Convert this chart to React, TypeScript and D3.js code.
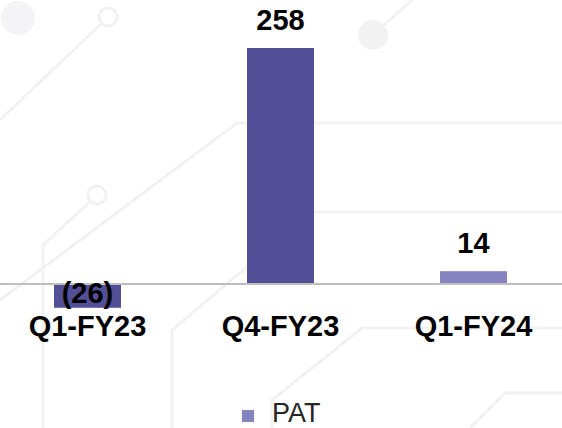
import React from "react";
import * as d3 from "d3";

const categories = ["Q1-FY23", "Q4-FY23", "Q1-FY24"];
const patValues = [-26, 258, 14];
const barColors = ["#524F96", "#524F96", "#8783C0"];
const legendLabel = "PAT";
const legendColor = "#8783C0";

const W = 562;
const H = 428;

// decorative circuit background (not data)
const decoLines = [
  "M102,23 L0,120",
  "M91,201 L43,245 L43,428",
  "M562,123 L237,123 L0,300",
  "M562,212 L312,212 L172,330 L172,428",
  "M562,328 L362,328 L272,400 L272,428",
  "M562,393 L505,393 L470,428",
  "M373,35 L412,0",
];

const fmt = (v: number) => (v < 0 ? `(${Math.abs(v)})` : `${v}`);

export default function App() {
  const x = d3
    .scaleBand<string>()
    .domain(categories)
    .range([-9, 570])
    .paddingInner(0.653)
    .paddingOuter(0.3265);
  const y = d3.scaleLinear().domain([0, 258]).range([284, 48]);
  const font = "'Liberation Sans', Arial, sans-serif";

  return (
    <svg
      width={W}
      height={H}
      style={{ position: "absolute", left: 0, top: 0, background: "#fff" }}
    >
      <g fill="none" stroke="#f2f2f2" strokeWidth={3}>
        {decoLines.map((d, i) => (
          <path key={i} d={d} />
        ))}
        <circle cx={108} cy={17} r={9} />
        <circle cx={97} cy={195} r={9} />
      </g>
      <circle cx={18} cy={18} r={17} fill="#f4f4f6" />
      <circle cx={373} cy={35} r={15} fill="#f2f2f2" />

      {categories.map((c, i) => {
        const v = patValues[i];
        const y0 = y(0);
        const yv = y(v);
        return (
          <rect
            key={c}
            x={x(c)}
            y={Math.min(y0, yv)}
            width={x.bandwidth()}
            height={Math.abs(yv - y0)}
            fill={barColors[i]}
          />
        );
      })}

      <line x1={0} x2={W} y1={y(0)} y2={y(0)} stroke="#bfbfbf" strokeWidth={2} />

      {categories.map((c, i) => {
        const v = patValues[i];
        const cx = (x(c) as number) + x.bandwidth() / 2;
        const ty = v >= 0 ? y(v) - 18 : y(v) - 5;
        return (
          <text
            key={c + "l"}
            x={cx}
            y={ty}
            textAnchor="middle"
            fontFamily={font}
            fontWeight="bold"
            fontSize={29}
            fill="#000"
          >
            {fmt(v)}
          </text>
        );
      })}

      {categories.map((c) => (
        <text
          key={c + "c"}
          x={(x(c) as number) + x.bandwidth() / 2}
          y={336}
          textAnchor="middle"
          fontFamily={font}
          fontWeight="bold"
          fontSize={29}
          fill="#000"
        >
          {c}
        </text>
      ))}

      <rect x={242} y={410} width={12} height={12} fill={legendColor} />
      <text x={272} y={422} fontFamily={font} fontSize={27} fill="#262626">
        {legendLabel}
      </text>
    </svg>
  );
}
